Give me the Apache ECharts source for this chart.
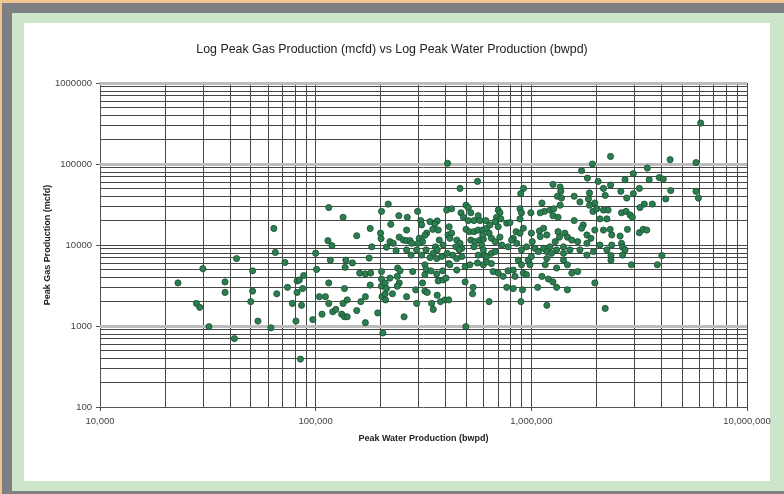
<!DOCTYPE html>
<html>
<head>
<meta charset="utf-8">
<script src="https://cdn.jsdelivr.net/npm/echarts@6/dist/echarts.min.js"></script>
<style>
  html, body { margin: 0; padding: 0; }
  #chart { width: 784px; height: 494px; }
</style>
</head>
<body>
<div id="chart"></div>
<script>
// Peak water production (bwpd) vs peak gas production (mcfd), one point per well
const wellPeaks = [
  [23000,3400],[28000,1900],[29000,1700],[30000,5100],[32000,980],[38000,3500],[38000,2600],[42000,700],
  [43000,6800],[51000,4800],[51000,2700],[50000,2000],[54000,1150],[62000,950],[64000,16000],[65000,8100],
  [72000,6100],[66000,2500],[74000,3000],[82000,3600],[84000,3700],[88000,4200],[82000,2600],[87000,2900],
  [78000,1900],[86000,1800],[81000,1150],[85000,390],[97000,1200],[100000,7900],[101000,5000],[115000,29000],
  [134000,22000],[114000,11300],[119000,9800],[117000,6500],[115000,3400],[104000,2300],[111000,2300],[115000,1900],
  [107000,1400],[120000,1500],[124000,1600],[132000,1400],[136000,1300],[140000,1300],[134000,1900],[140000,2100],
  [136000,2900],[138000,6500],[137000,5300],[148000,6000],[155000,13000],[177000,6900],[179000,16000],[160000,4500],
  [170000,4400],[180000,4500],[179000,3200],[170000,2300],[162000,2000],[155000,1550],[170000,1100],[194000,1450],
  [205000,820],[217000,32000],[202000,26000],[243000,23000],[266000,22000],[223000,18000],[200000,14000],[201000,12000],
  [221000,11000],[229000,10500],[244000,12500],[255000,11500],[264000,11300],[264000,15300],[213000,9400],[236000,8500],
  [202000,4700],[240000,5200],[246000,4800],[202000,3800],[221000,3900],[239000,4100],[202000,3100],[210000,3400],
  [244000,3400],[239000,3100],[203000,2300],[210000,2500],[227000,2500],[264000,2300],[257000,1300],
  [409000,102000],[563000,61000],[467000,50000],[297000,26000],[405000,27000],[427000,28000],[498000,31000],[510000,29000],
  [472000,25000],[484000,22000],[524000,25000],[567000,23000],[542000,20000],[510000,20000],[578000,20000],[307000,20000],
  [310000,17700],[339000,19400],[366000,19800],[357000,18200],[349000,15600],[370000,15300],[327000,14000],[321000,13200],
  [416000,16800],[411000,13300],[427000,14000],[419000,12100],[498000,15600],[516000,14600],[542000,14600],[567000,15300],
  [595000,15300],[620000,16100],[274000,11300],[279000,10500],[302000,12100],[313000,11000],[299000,10500],[374000,11500],
  [390000,10000],[359000,9500],[451000,11500],[467000,10500],[476000,9100],[447000,9500],[463000,8700],[524000,11500],
  [548000,11000],[578000,11500],[599000,11800],[588000,10000],[542000,9500],[182000,9500],[264000,8700],[294000,8700],
  [310000,7500],[325000,8700],[351000,7900],[366000,8700],[339000,7000],[364000,6800],[384000,7200],[407000,7900],
  [432000,7500],[451000,6800],[476000,7200],
  [277000,7500],[282000,4700],[321000,5700],[325000,5000],[342000,4800],[321000,4300],[364000,4400],[388000,4800],
  [414000,5900],[419000,5700],[451000,4900],[493000,5400],[519000,5700],[370000,3600],[390000,3700],[402000,3900],
  [313000,3400],[493000,3500],[537000,3000],[534000,2500],[563000,6000],[599000,5700],[620000,6200],[567000,7500],
  [605000,7500],[211000,2100],[213000,2900],[291000,2800],[321000,2700],[329000,2600],[366000,2400],[294000,1900],
  [345000,1900],[351000,1600],[379000,2000],[398000,2100],[414000,2100],[497000,980],[637000,2000],
  [2330000,124000],[1920000,100000],[1710000,83000],[1820000,67000],[2040000,61000],[1260000,56000],[1360000,52000],[1370000,46000],
  [1320000,40000],[1380000,38000],[920000,50000],[893000,43000],[1580000,40000],[1680000,34000],[1860000,44000],[1840000,37000],
  [1860000,31000],[1970000,33000],[2160000,50000],[2200000,41000],[2330000,55000],[1120000,33000],[1150000,26000],[1100000,25000],
  [1220000,27000],[1270000,28000],[1360000,31000],[1260000,23000],[1330000,22000],[995000,25000],[886000,28000],[900000,25000],
  [886000,21000],[702000,27000],[715000,25000],[690000,22000],[722000,21000],[680000,19400],[616000,20000],[643000,17700],
  [702000,16800],[769000,18600],[796000,18900],[1930000,26000],[2010000,28000],[2160000,27000],[2270000,27000],[2240000,21000],
  [2080000,21000],[1580000,20000],[1740000,17700],[1710000,16100],[1970000,15300],[2160000,15300],[2320000,15600],[2360000,13300],
  [850000,14600],[886000,14000],[825000,12100],[918000,16100],[1000000,14000],[1090000,14900],[1140000,16100],[1100000,12700],
  [1180000,13300],[1330000,14600],[1430000,14000],[1470000,12500],[1540000,11500],[1350000,12500],[1290000,11000],[1410000,9500],
  [1220000,9500],[1640000,11000],[1810000,13300],[1890000,12100],[1810000,10500],[1680000,8700],[637000,14000],[595000,13300],
  [653000,12100],[680000,11000],[715000,12500],[730000,10000],[780000,9500],[810000,11500],[856000,10500],[900000,8700],
  [950000,9500],[1010000,11000],[1040000,9100],[1080000,8300],[1140000,9100],[1180000,8300],[1240000,7900],[1310000,8700],
  [1410000,7900],[1510000,8700],[1940000,8300],[2080000,10000],[2240000,8700],[2360000,10000],[620000,7200],[653000,7900],
  [599000,8700],
  [680000,8300],[653000,5900],[665000,4700],[702000,4500],[740000,4100],[780000,4800],[825000,4900],[840000,4100],
  [870000,6500],[900000,5700],[918000,4500],[950000,4300],[986000,5700],[967000,6500],[1000000,7200],[1180000,6800],
  [1410000,6500],[1160000,5700],[1310000,5200],[1470000,5700],[1540000,4500],[1640000,4700],[1810000,7500],[1120000,4100],
  [1200000,3800],[1260000,3500],[1310000,3000],[1070000,3000],[1470000,2800],[769000,3000],[825000,2900],[910000,2800],
  [895000,2000],[1180000,1800],[1970000,3400],[2200000,1650],
  [6100000,320000],[4400000,113000],[5800000,104000],[3450000,89000],[2970000,76000],[3920000,68000],[4090000,65000],[3520000,64000],
  [2720000,64000],[3170000,50000],[2600000,46000],[2970000,43000],[2770000,38000],[4430000,47000],[4200000,37000],[5800000,46000],
  [5950000,38000],[3340000,32000],[3640000,32000],[3190000,29000],[2620000,25000],[2750000,26000],[2870000,23500],[2940000,22000],
  [2790000,15600],[3170000,14200],[3300000,15600],[3430000,15300],[2580000,12900],[2620000,10500],[2650000,9400],[2720000,8700],
  [2340000,7400],[2340000,6500],[2650000,7500],[2910000,5700],[4030000,7400],[3840000,5700]
];

// Decade gridlines and the 2..9 minor gridlines of each log axis
const waterDecades = [1e4, 1e5, 1e6, 1e7];
const waterMinor = [2e4,3e4,4e4,5e4,6e4,7e4,8e4,9e4, 2e5,3e5,4e5,5e5,6e5,7e5,8e5,9e5, 2e6,3e6,4e6,5e6,6e6,7e6,8e6,9e6];
const gasDecadesLight = [1e3, 1e5, 1e6];
const gasDecadesDark = [1e4];
const gasMinor = [200,300,400,500,600,700,800,900, 2e3,3e3,4e3,5e3,6e3,7e3,8e3,9e3, 2e4,3e4,4e4,5e4,6e4,7e4,8e4,9e4, 2e5,3e5,4e5,5e5,6e5,7e5,8e5,9e5];

const DARK = '#474747';
const FONT = 'Liberation Sans, Arial, sans-serif';

const gridLines = [];
waterMinor.concat(waterDecades.slice(1)).forEach(v => gridLines.push({ xAxis: v, lineStyle: { color: DARK, width: 1, type: 'solid' } }));
gasMinor.concat(gasDecadesDark).forEach(v => gridLines.push({ yAxis: v, lineStyle: { color: DARK, width: 1, type: 'solid' } }));
gasDecadesLight.forEach(v => gridLines.push({ yAxis: v, lineStyle: { color: '#bcbcbc', width: 3, type: 'solid' } }));

const chart = echarts.init(document.getElementById('chart'), null, { renderer: 'canvas' });

chart.setOption({
  animation: false,
  backgroundColor: '#7e7f83',
  graphic: [
    { type: 'rect', z: -10, shape: { x: 0, y: 0, width: 784, height: 3 }, style: { fill: '#f1c48f' } },
    { type: 'rect', z: -10, shape: { x: 0, y: 0, width: 2, height: 494 }, style: { fill: '#f1c48f' } },
    { type: 'rect', z: -9, shape: { x: 12, y: 13, width: 772, height: 478 }, style: { fill: '#cde6cb' } },
    { type: 'rect', z: -8, shape: { x: 24, y: 23, width: 746, height: 458 }, style: { fill: '#ffffff' } }
  ],
  title: {
    text: 'Log Peak Gas Production (mcfd) vs Log Peak Water Production (bwpd)',
    left: 'center',
    top: 39,
    textStyle: { fontFamily: FONT, fontSize: 12.4, fontWeight: 'normal', color: '#222' }
  },
  grid: { left: 100, right: 37, top: 83, bottom: 87, containLabel: false },
  xAxis: {
    type: 'log',
    logBase: 10,
    min: 1e4,
    max: 1e7,
    name: 'Peak Water Production (bwpd)',
    nameLocation: 'middle',
    nameGap: 27,
    nameTextStyle: { fontFamily: FONT, fontSize: 9, fontWeight: 'bold', color: '#222' },
    axisLine: { lineStyle: { color: '#555', width: 1 } },
    axisTick: { show: true, length: 4, lineStyle: { color: '#555' } },
    axisLabel: {
      fontFamily: FONT, fontSize: 9.5, color: '#444', margin: 9,
      formatter: v => Math.round(v).toLocaleString('en-US')
    },
    splitLine: { show: false }
  },
  yAxis: {
    type: 'log',
    logBase: 10,
    min: 100,
    max: 1e6,
    name: 'Peak Gas Production (mcfd)',
    nameLocation: 'middle',
    nameRotate: 90,
    nameGap: 48,
    nameMoveOverlap: false,
    nameTextStyle: { fontFamily: FONT, fontSize: 9, fontWeight: 'bold', color: '#222' },
    axisLine: { lineStyle: { color: '#555', width: 1 } },
    axisTick: { show: true, length: 4, lineStyle: { color: '#555' } },
    axisLabel: {
      fontFamily: FONT, fontSize: 9.5, color: '#444', margin: 8,
      formatter: v => String(Math.round(v))
    },
    splitLine: { show: false }
  },
  series: [
    {
      type: 'line',
      data: [],
      z: 1,
      silent: true,
      markLine: {
        silent: true,
        symbol: ['none', 'none'],
        label: { show: false },
        animation: false,
        data: gridLines
      }
    },
    {
      type: 'scatter',
      z: 5,
      data: wellPeaks,
      symbol: 'circle',
      symbolSize: 6.2,
      itemStyle: { color: '#2b7f4f', borderColor: '#1b4f33', borderWidth: 0.8, opacity: 1 }
    }
  ]
});
</script>
</body>
</html>
